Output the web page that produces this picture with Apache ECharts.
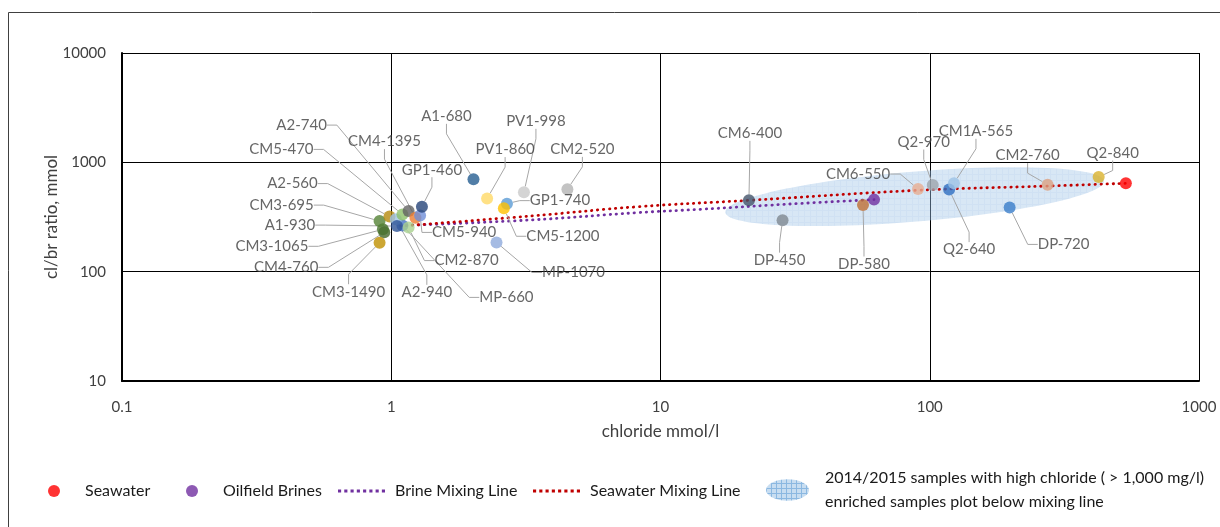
<!DOCTYPE html>
<html>
<head>
<meta charset="utf-8">
<script src="https://cdn.jsdelivr.net/npm/echarts@6/dist/echarts.min.js"></script>
<style>
  html, body { margin: 0; padding: 0; background: #fff; }
  #chart { width: 1220px; height: 527px; }
</style>
</head>
<body>
<div id="chart"></div>
<script>
// Sample points: chloride (mmol/l) against Cl/Br molar ratio
const sampleNames = ['MP-660', 'CM4-760', 'CM3-1065', 'CM3-1490', 'CM3-695', 'A2-560', 'A2-940', 'A1-930',
  'CM2-870', 'CM5-470', 'A2-740', 'CM4-1395', 'CM5-940', 'GP1-460', 'A1-680', 'PV1-860', 'PV1-998',
  'CM2-520', 'GP1-740', 'CM5-1200', 'MP-1070', 'CM6-400', 'DP-450', 'DP-580', 'CM6-550', 'Q2-970',
  'Q2-640', 'CM1A-565', 'DP-720', 'CM2-760', 'Q2-840'];
const sampleChloride = [1.10, 0.942, 0.931, 0.905, 0.905, 0.985, 1.04, 1.05,
  1.16, 1.10, 1.16, 1.23, 1.28, 1.30, 2.02, 2.27, 3.11,
  4.51, 2.69, 2.62, 2.46, 21.3, 28.4, 56.5, 90.5, 102.6,
  118, 123, 198, 274, 424];
const sampleClBr = [265, 229, 244, 184, 290, 319, 301, 261,
  253, 334, 358, 312, 327, 393, 699, 466, 532,
  566, 419, 380, 185, 449, 296, 407, 570, 620,
  563, 643, 387, 625, 734];

// End members
const seawaterChloride = [535];
const seawaterClBr = [643];
const brineChloride = [62.1];
const brineClBr = [456];

// Mixing curves
const seawaterLineChloride = [1.08, 3.29, 8.28, 21.3, 90.2, 274, 535];
const seawaterLineClBr = [261, 323, 393, 449, 555, 607, 643];
const brineLineChloride = [1.14, 3.29, 8.28, 14.1, 33.1, 62.1];
const brineLineClBr = [265, 297, 347, 372, 421, 456];

// Envelope of the enriched high-chloride samples (ends of its long axis)
const envelopeEnds = [[17.4, 349, 443.6, 675]];

// Axis ticks
const xTicks = [0.1, 1, 10, 100, 1000];
const yTicks = [10, 100, 1000, 10000];

// Marker colours and label placement (pixel offsets from each marker)
const sampleColors = ['#4472C4', '#43682B', '#4A7330', '#BF9000', '#548235', '#B58A0E', '#9DC3E6', '#2F5597',
  '#A9D18E', '#8CC168', '#636363', '#ED7D31', '#6F8FD8', '#264478', '#255E91', '#FFD966', '#C9C9C9',
  '#B4B4B4', '#5B9BD5', '#FFC000', '#8FAADC', '#44546A', '#7F8891', '#BF6F35', '#E8AE92', '#9DA5AD',
  '#2F6FC2', '#9DC3E6', '#3A7DC9', '#DCA182', '#D9B22D'];
const labelOffsets = [[104, 72], [-98, 35], [-111, 17], [-31, 49], [-98, -16], [-97, -33], [31, 73], [-107, -1],
  [58, 33], [-121, -65], [-107, -86], [-31, -76], [44, 17], [10, -37], [-27, -63], [18, -49], [12, -71],
  [15, -40], [53, -3], [59, 28], [77, 30], [1, -67], [-3, 40], [1, 59], [-60, -15], [-9, -43],
  [20, 60], [22, -52], [54, 37], [-20, -29], [14, -24]];

const FONT = 'Lato, "Open Sans", sans-serif';
const ENVELOPE_NAME = '2014/2015 samples with high chloride ( > 1,000 mg/l)\nenriched samples plot below mixing line';

const zip = (xs, ys) => xs.map((x, i) => [x, ys[i]]);
const fmt = v => String(+Number(v).toPrecision(6));

// Light blue grid-textured fill for the envelope
function gridPattern(size, base, line) {
  const c = document.createElement('canvas');
  c.width = size; c.height = size;
  const g = c.getContext('2d');
  g.fillStyle = base;
  g.fillRect(0, 0, size, size);
  g.fillStyle = line;
  g.fillRect(0, 0, 1, size);
  g.fillRect(1, 0, size - 1, 1);
  return { image: c, repeat: 'repeat' };
}
const envelopeFill = gridPattern(6, 'rgba(157,195,230,0.40)', 'rgba(120,170,222,0.09)');
const envelopeIconFill = gridPattern(5, 'rgba(189,215,238,0.85)', 'rgba(91,155,213,0.55)');

// Legend glyph for the dotted mixing lines: a row of small dots
const dottedIcon = 'path://' + Array.from({ length: 8 }, (_, i) =>
  'M' + (i * 6) + ',0h3v3h-3z').join(' ');

const chart = echarts.init(document.getElementById('chart'), null, { renderer: 'canvas' });

const dotted = { width: 2.8, type: [0.4, 5.6], cap: 'round' };

chart.setOption({
  animation: false,
  textStyle: { fontFamily: FONT },
  graphic: [{
    type: 'rect', left: 6, top: 10, silent: true,
    shape: { width: 1260, height: 600 },
    style: { fill: 'none', stroke: '#404040', lineWidth: 1 }
  }],
  grid: { left: 122, right: 21, top: 53, bottom: 146 },
  xAxis: {
    type: 'log', logBase: 10, min: xTicks[0], max: xTicks[xTicks.length - 1],
    name: 'chloride mmol/l', nameLocation: 'middle', nameGap: 42, nameMoveOverlap: false,
    nameTextStyle: { fontSize: 17, color: '#404040', fontFamily: FONT },
    axisLine: { lineStyle: { color: '#000', width: 2 } },
    axisTick: { show: false },
    minorTick: { show: false },
    axisLabel: { fontSize: 15, color: '#404040', margin: 19, formatter: fmt, fontFamily: FONT },
    splitLine: { show: true, lineStyle: { color: '#000', width: 1 } }
  },
  yAxis: {
    type: 'log', logBase: 10, min: yTicks[0], max: yTicks[yTicks.length - 1],
    name: 'cl/br ratio, mmol', nameLocation: 'middle', nameGap: 62, nameRotate: 90, nameMoveOverlap: false,
    nameTextStyle: { fontSize: 17, color: '#404040', fontFamily: FONT },
    axisLine: { show: true, lineStyle: { color: '#000', width: 2 } },
    axisTick: { show: false },
    minorTick: { show: false },
    axisLabel: { fontSize: 15, color: '#404040', margin: 16, formatter: fmt, fontFamily: FONT },
    splitLine: { show: true, lineStyle: { color: '#000', width: 1 } }
  },
  legend: [
    { left: 48, top: 483, padding: 0, itemWidth: 12, itemHeight: 12, icon: 'circle',
      data: ['Seawater'], textStyle: { fontSize: 16, color: '#1a1a1a', padding: [0, 0, 0, 20] } },
    { left: 186, top: 483, padding: 0, itemWidth: 12, itemHeight: 12, icon: 'circle',
      data: ['Oilfield Brines'], textStyle: { fontSize: 16, color: '#1a1a1a', padding: [0, 0, 0, 20] } },
    { left: 338, top: 483, padding: 0, itemWidth: 47, itemHeight: 12,
      data: [{ name: 'Brine Mixing Line', icon: dottedIcon }],
      textStyle: { fontSize: 16, color: '#1a1a1a', padding: [0, 0, 0, 5] } },
    { left: 533, top: 483, padding: 0, itemWidth: 47, itemHeight: 12,
      data: [{ name: 'Seawater Mixing Line', icon: dottedIcon }],
      textStyle: { fontSize: 16, color: '#1a1a1a', padding: [0, 0, 0, 5] } },
    { left: 766, top: 466, padding: 0, itemWidth: 43, itemHeight: 24,
      data: [{ name: ENVELOPE_NAME, icon: 'path://M0,50 A100,50 0 1,1 200,50 A100,50 0 1,1 0,50 Z',
               itemStyle: { color: envelopeIconFill } }],
      textStyle: { fontSize: 16, color: '#1a1a1a', lineHeight: 24, padding: [0, 0, 0, 11] } }
  ],
  series: [
    {
      name: ENVELOPE_NAME,
      type: 'custom',
      z: 1,
      silent: true,
      itemStyle: { color: 'rgba(157,195,230,0.42)' },
      data: envelopeEnds,
      renderItem: function (params, api) {
        const p1 = api.coord([api.value(0), api.value(1)]);
        const p2 = api.coord([api.value(2), api.value(3)]);
        const cx = (p1[0] + p2[0]) / 2, cy = (p1[1] + p2[1]) / 2;
        const a = Math.hypot(p2[0] - p1[0], p2[1] - p1[1]) / 2;
        const ang = Math.atan2(p2[1] - p1[1], p2[0] - p1[0]);
        const b = 25;
        const pts = [];
        for (let i = 0; i < 120; i++) {
          const t = i / 120 * Math.PI * 2;
          const ex = a * Math.cos(t), ey = b * Math.sin(t);
          pts.push([cx + ex * Math.cos(ang) - ey * Math.sin(ang), cy + ex * Math.sin(ang) + ey * Math.cos(ang)]);
        }
        return { type: 'polygon', shape: { points: pts }, style: { fill: envelopeFill } };
      }
    },
    {
      name: 'Brine Mixing Line',
      type: 'line', z: 2, symbol: 'none', smooth: 0.4, silent: true,
      color: '#7030A0',
      lineStyle: Object.assign({ color: '#7030A0' }, dotted),
      data: zip(brineLineChloride, brineLineClBr)
    },
    {
      name: 'Seawater Mixing Line',
      type: 'line', z: 2, symbol: 'none', smooth: 0.4, silent: true,
      color: '#C00000',
      lineStyle: Object.assign({ color: '#C00000' }, dotted),
      data: zip(seawaterLineChloride, seawaterLineClBr)
    },
    {
      name: 'Samples',
      type: 'scatter', z: 3, symbolSize: 12,
      data: sampleChloride.map((x, i) => ({ value: [x, sampleClBr[i]], itemStyle: { color: sampleColors[i] } })),
      label: {
        show: true, position: 'inside', fontSize: 15, color: '#404040', fontFamily: FONT,
        formatter: p => sampleNames[p.dataIndex]
      },
      labelLine: { show: true, length2: 10, lineStyle: { color: '#A6A6A6', width: 1 } },
      labelLayout: p => ({ dx: labelOffsets[p.dataIndex][0], dy: labelOffsets[p.dataIndex][1] })
    },
    {
      name: 'Oilfield Brines',
      type: 'scatter', z: 4, symbolSize: 12,
      itemStyle: { color: '#7030A0' },
      data: zip(brineChloride, brineClBr)
    },
    {
      name: 'Seawater',
      type: 'scatter', z: 4, symbolSize: 12,
      itemStyle: { color: '#FF0000' },
      data: zip(seawaterChloride, seawaterClBr)
    }
  ]
});
</script>
</body>
</html>
